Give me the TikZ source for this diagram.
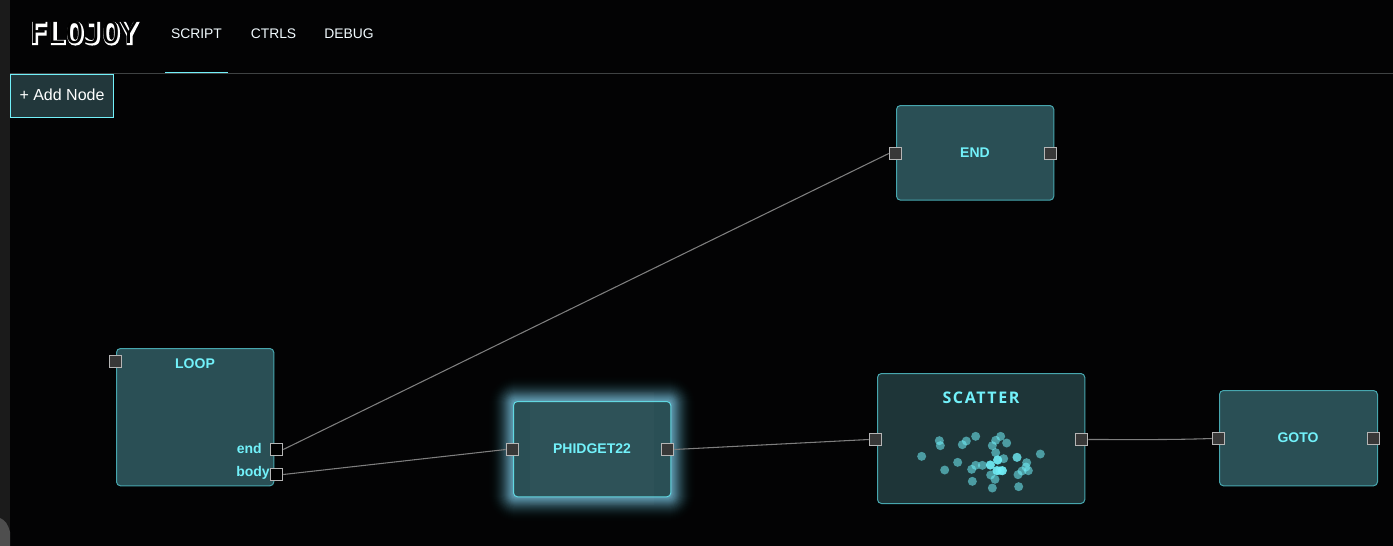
\documentclass[tikz,border=0pt]{standalone}
\usepackage{fontspec}
\setmainfont{Liberation Sans}
\newfontfamily\scatfont{Open Sans}
\newfontfamily\logoheavy[BoldFeatures={FakeBold=5}]{DejaVu Sans Mono}
\newfontfamily\logothin{DejaVu Sans Mono}
\definecolor{bgc}{HTML}{030304}
\definecolor{stripc}{HTML}{1B1B1B}
\definecolor{barc}{HTML}{4E4E4E}
\definecolor{rulec}{HTML}{3F4243}
\definecolor{cyanc}{HTML}{72F1FA}
\definecolor{edgec}{HTML}{47A6AE}
\definecolor{selc}{HTML}{60D8E2}
\definecolor{nodec}{HTML}{2A4F55}
\definecolor{scatc}{HTML}{1E3538}
\definecolor{btnc}{HTML}{22373B}
\definecolor{hfill}{HTML}{383838}
\definecolor{hline}{HTML}{B5B5B5}
\definecolor{wirec}{HTML}{7E7E7E}
\definecolor{glowc}{HTML}{7FCBE8}
\definecolor{navc}{HTML}{F2FBFF}
\tikzset{
 x=0.75pt,y=-0.75pt,
 fnode/.style={draw=edgec,line width=0.75pt,fill=nodec,rounded corners=3pt,inner sep=0pt,anchor=north west},
 porth/.style={draw=hline,fill=hfill,line width=0.75pt,minimum size=9.4pt,inner sep=0pt},
 hole/.style={porth,fill=black},
 wire/.style={draw=wirec,line width=0.8pt},
 navt/.style={text=navc,inner sep=0pt,font=\fontsize{10.4pt}{12pt}\selectfont},
 ntitle/.style={text=cyanc,inner sep=0pt,font=\fontsize{10.5pt}{12pt}\selectfont\bfseries},
 dotc/.style={fill=cyanc,fill opacity=0.55,draw=none},
}
\begin{document}
\begin{tikzpicture}
\useasboundingbox (0,0) rectangle (1393,546);
\fill[bgc] (0,0) rectangle (1393,546);
\fill[stripc] (0,0) rectangle (10,546);
\fill[barc] (0,546) -- (0,518) .. controls (5,520) and (8,524) .. (10,532) -- (10,546) -- cycle;
% header
\draw[rulec,line width=0.75pt] (10,73.5) -- (1393,73.5);
\fill[cyanc] (165,71.5) rectangle (228,73);
\node (logoback) [text=white,inner sep=0pt,font=\logoheavy\bfseries\fontsize{22.5pt}{24pt}\selectfont] at (84.5,33.5) {FLOJOY};
\node (logo) [text=black,inner sep=0pt,font=\logothin\fontsize{22.5pt}{24pt}\selectfont] at (83.5,33) {FLOJOY};
\node (script) [navt] at (196.5,33.5) {SCRIPT};
\node (ctrls) [navt] at (273.5,33.5) {CTRLS};
\node (debug) [navt] at (349,33.5) {DEBUG};
\node (add) [draw=cyanc,fill=btnc,line width=0.75pt,minimum width=77.5pt,minimum height=32pt,inner sep=0pt,anchor=north west] at (10,74) {};
\node (addt) [inner sep=0pt,text=white,font=\fontsize{12pt}{14pt}\selectfont] at (62,94.5) {+ Add Node};
% glow
\foreach \r in {24,23,...,1}{
 \pgfmathsetmacro{\al}{0.14*(1-\r/26)*(1-\r/26)+0.006}
 \fill[glowc,opacity=\al,rounded corners=\r*0.75pt+2pt] (513-\r,401-\r) rectangle (671+\r,497+\r);
}
% nodes
\node (endn) [fnode,minimum width=118pt,minimum height=71pt] at (896,105) {};
\node (loop) [fnode,minimum width=118pt,minimum height=103pt] at (116,348) {};
\node (phid) [fnode,draw=selc,minimum width=118pt,minimum height=71.5pt] at (513,401) {};
\fill[white,opacity=0.018] (530,392) rectangle (654,505);
\node (scat) [fnode,fill=scatc,minimum width=155.5pt,minimum height=97.5pt] at (877,373) {};
\node (goto) [fnode,minimum width=118.5pt,minimum height=71.5pt] at (1219,390) {};
% titles
\node (tend) [ntitle] at (975,153) {END};
\node (tloop) [ntitle] at (195,364) {LOOP};
\node (tphid) [ntitle] at (592,449) {PHIDGET22};
\node (tgoto) [ntitle] at (1298,438) {GOTO};
\node (tscat) [text=cyanc,inner sep=0pt,font=\scatfont\fontsize{12pt}{14pt}\selectfont\bfseries\addfontfeature{LetterSpace=10}] at (981,397.5) {SCATTER};
\node (lend) [ntitle,anchor=east] at (262,448.5) {end};
\node (lbody) [ntitle,anchor=east] at (270,473) {body};
% dots
\foreach \a/\b in {155/274,208/227,211/242,277/239,289/228,317/214,392/214,377/226,367/242,410/234,377/263,401/281,441/277,511/267,470/293,468/306,475/317,456/318,444/329,383/285,361/300,263/292,224/315,305/313,317/301,337/301,381/317,390/317,397/317,362/330,375/343,307/349,367/369,446/365,383/285,361/300,381/317,397/317,441/277,361/300,383/285,381/317,397/317}{
 \fill[dotc] ({870+\a/3},{365+\b/3}) circle[radius=4.5];
}
% handles
\node (h1) [porth] at (895.5,153.5) {};
\node (h2) [porth] at (1050.5,153.5) {};
\node (h3) [porth] at (115.5,361.5) {};
\node (hend) [hole] at (276.5,449.5) {};
\node (hbody) [hole] at (276.5,474.5) {};
\node (h4) [porth] at (512.5,449.5) {};
\node (h5) [porth] at (667.5,449.5) {};
\node (h6) [porth] at (875.5,439.5) {};
\node (h7) [porth] at (1081.5,439.5) {};
\node (h8) [porth] at (1218.5,438.5) {};
\node (h9) [porth] at (1373.5,438.5) {};
% wires
\draw[wire] (hend.east) -- (h1.west);
\draw[wire] (hbody.east) -- (h4.west);
\draw[wire] (h5.east) -- (h6.west);
\draw[wire] (h7.east) .. controls (1130,439.5) and (1170,440) .. (h8.west);
\end{tikzpicture}
\end{document}
